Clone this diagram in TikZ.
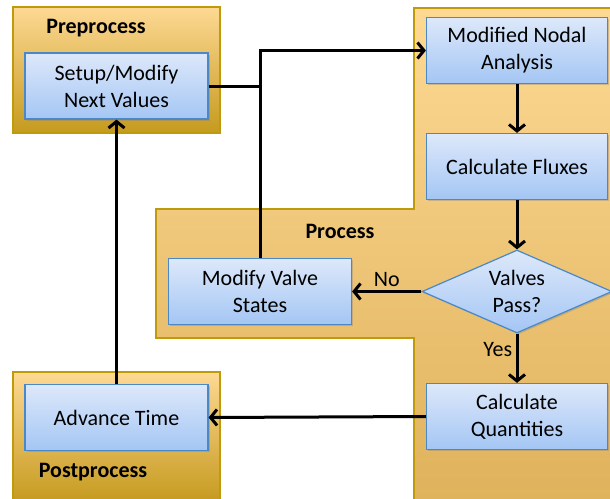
\documentclass[tikz,border=0pt]{standalone}
\usepackage{fontspec}
\setmainfont{Carlito}
\usetikzlibrary{arrows.meta,shapes.geometric,shadows}

\definecolor{goldlight}{HTML}{FDD993}
\definecolor{golddark}{HTML}{C69A1F}
\definecolor{procdark}{HTML}{DFB25C}
\definecolor{goldedge}{HTML}{BF9A0A}
\definecolor{bluelight}{HTML}{DDE8FA}
\definecolor{bluedark}{HTML}{A4C6F4}
\definecolor{blueedge}{HTML}{4A88C8}

\tikzset{
  txt/.style={font=\fontsize{22}{27}\selectfont},
  stagebox/.style={draw=goldedge, line width=1.6pt},
  taskbox/.style={txt, draw=blueedge, line width=1.2pt, top color=bluelight, bottom color=bluedark,
    align=center, inner sep=0pt, drop shadow={shadow xshift=1.5pt, shadow yshift=-1.5pt, opacity=0.35}},
  rectbox/.style={taskbox, rectangle, minimum width=183pt, minimum height=66pt},
  decision/.style={taskbox, diamond, aspect=2.29, minimum width=190pt, minimum height=83pt},
  flow/.style={line width=3pt, -{Straight Barb[length=6.5pt, width=16pt]}},
  link/.style={line width=3pt},
  stagelabel/.style={txt, font=\fontsize{22}{27}\selectfont\bfseries},
}

\begin{document}
\begin{tikzpicture}[x=1pt, y=-1pt]
  \useasboundingbox (0,0) rectangle (610,498);

  % stage backgrounds
  \path[stagebox, top color=goldlight, bottom color=golddark] (13,7) rectangle (220,133);
  \path[stagebox, top color=goldlight, bottom color=procdark]
    (414,8) -- (614,8) -- (614,502) -- (414,502) -- (414,338) -- (156,338) -- (156,209) -- (414,209) -- cycle;
  \path[stagebox, top color=goldlight, bottom color=golddark] (13,372) rectangle (220,502);

  \node[stagelabel] (prelabel) at (96,28) {Preprocess};
  \node[stagelabel] (proclabel) at (340,231) {Process};
  \node[stagelabel] (postlabel) at (93,472) {Postprocess};

  % tasks
  \node[rectbox] (setup) at (116.5,86) {Setup/Modify\\Next Values};
  \node[rectbox, minimum width=181pt] (mna) at (517,50.5) {Modified Nodal\\Analysis};
  \node[rectbox, minimum width=181pt] (cf) at (517,166.5) {Calculate Fluxes};
  \node[decision] (valve) at (517,291.5) {Valves\\Pass?};
  \node[rectbox, minimum width=181pt] (cq) at (517,416.5) {Calculate\\Quantities};
  \node[rectbox] (mvs) at (260,291.5) {Modify Valve\\States};
  \node[rectbox] (adv) at (116.5,417.5) {Advance Time};

  % connectors
  \coordinate (join) at (mvs.north |- setup.east);
  \draw[link] (setup.east) -- (join);
  \draw[flow] (mvs.north) |- (mna.west);
  \draw[flow] (mna.south) -- (cf.north);
  \draw[flow] (cf.south) -- (valve.north);
  \draw[flow] (valve.west) -- node[txt, above] (no) {No} (mvs.east);
  \draw[flow] (valve.south) -- node[txt, left, pos=0.32] (yes) {Yes} (cq.north);
  \draw[flow] (cq.west) -- (adv.east);
  \draw[flow] (adv.north) -- (setup.south);
\end{tikzpicture}
\end{document}
